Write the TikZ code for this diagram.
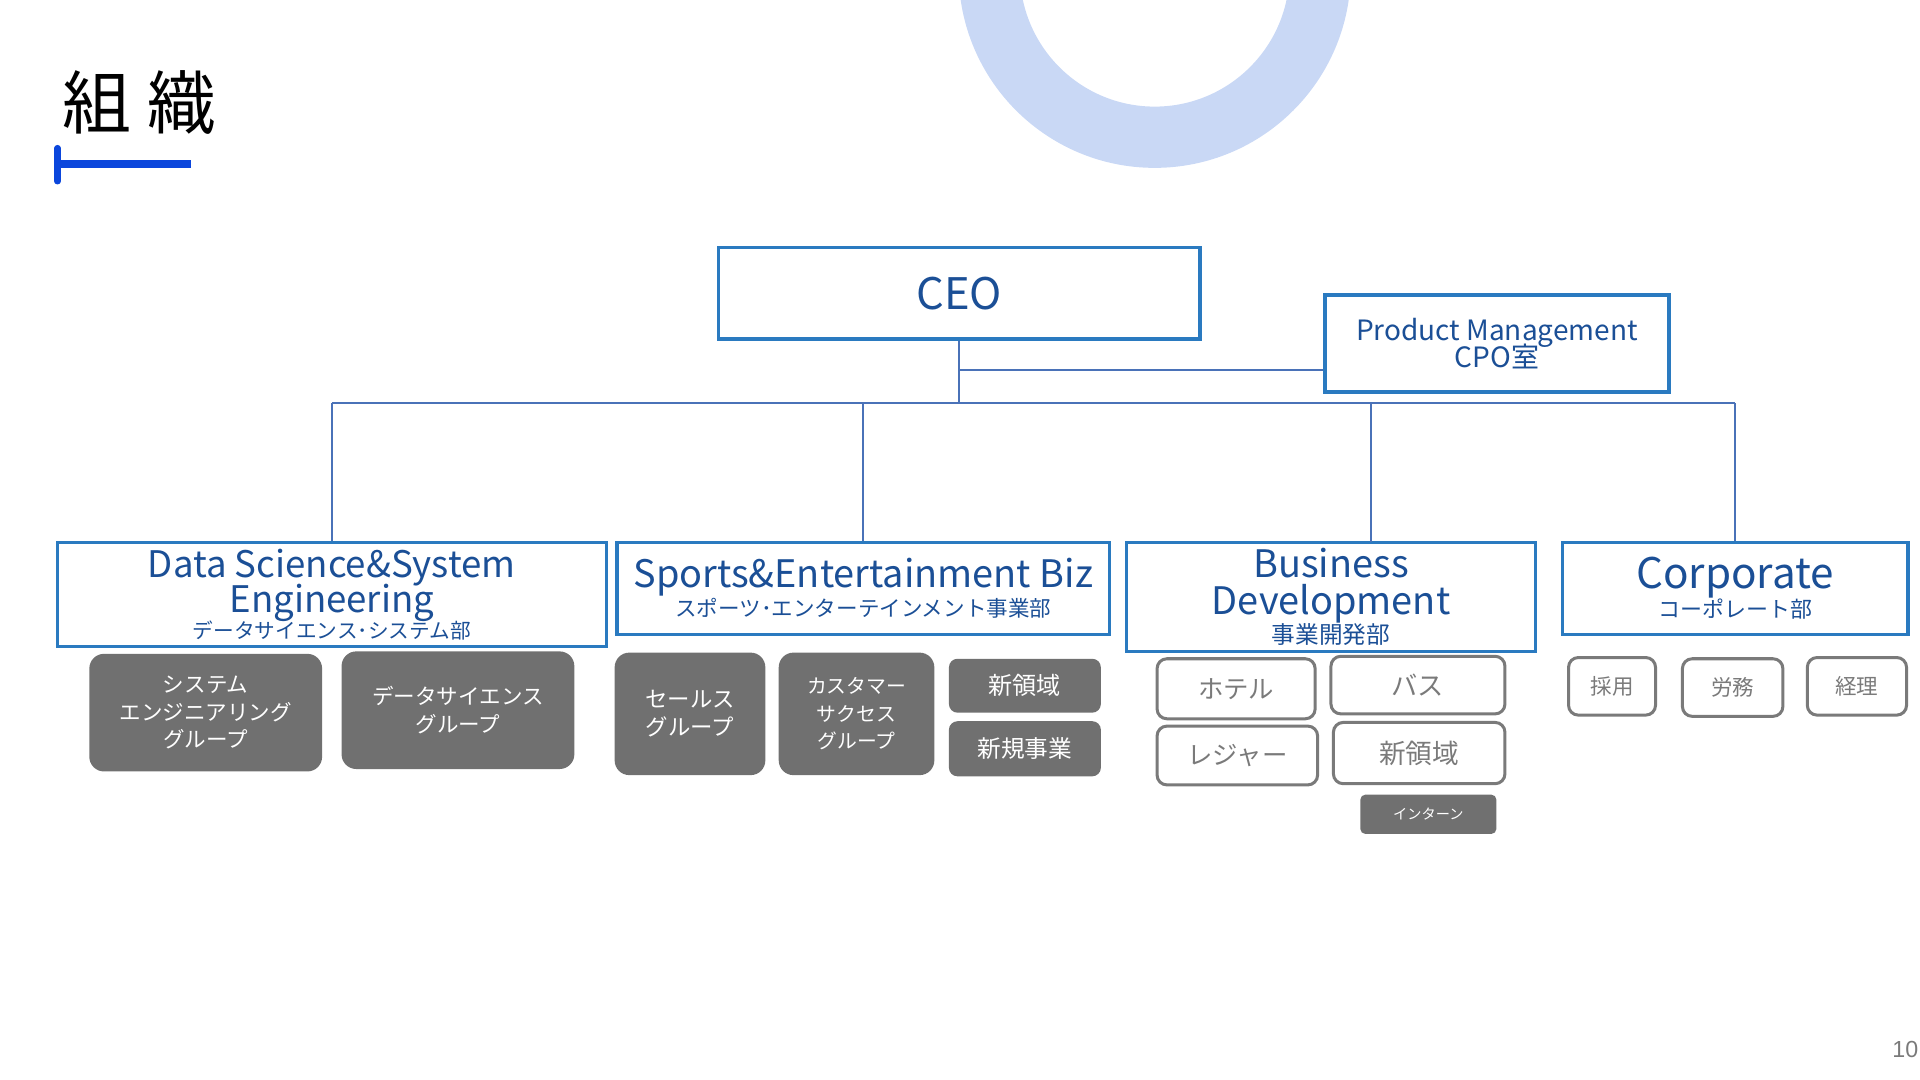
\documentclass[tikz,border=0pt]{standalone}
\usepackage{fontspec}
\setmainfont{Noto Sans CJK JP}
\newfontfamily\pagefont{Liberation Sans}

\definecolor{deptline}{HTML}{2A7AC0}
\definecolor{depttext}{HTML}{1B4F96}
\definecolor{linkline}{HTML}{4A72B8}
\definecolor{grpfill}{HTML}{707070}
\definecolor{unitline}{HTML}{7A7A7A}
\definecolor{ringblue}{HTML}{C9D8F5}
\definecolor{barblue}{HTML}{0B46DC}

\newcommand{\fsz}[2]{\fontsize{#1pt}{#2pt}\selectfont\lineskiplimit=-20pt\relax}

\tikzset{
  dept/.style={draw=deptline,line width=0.8pt,text=depttext,align=center,inner sep=0pt},
  grp/.style={fill=grpfill,text=white,rounded corners=0.12cm,align=center,inner sep=0pt,font={\fsz{5}{6.4}}},
  unit/.style={draw=unitline,line width=0.7pt,text=unitline,rounded corners=0.08cm,inner sep=0pt},
  link/.style={draw=linkline,line width=0.45pt}
}

\begin{document}
\begin{tikzpicture}[x=0.01cm,y=-0.01cm]
\useasboundingbox (0,0) rectangle (1568,882);
% ring at the top
\fill[ringblue,even odd rule] (943,-23) circle (1.6cm) (943,-23) circle (1.1cm);
% title
\node[font={\fsz{16}{16}}] (title) at (114,84) {組 織};
\draw[barblue,line width=1.7pt] (47,134) -- (156,134);
\draw[barblue,line width=1.5pt,line cap=round] (47,121) -- (47,148);

% top
\node[dept,minimum width=3.93cm,minimum height=0.75cm,font={\fsz{10.1}{12}}] (ceo) at (783.5,239.5) {CEO};
\node[dept,minimum width=2.81cm,minimum height=0.79cm,font={\fsz{6.5}{6.4}}] (pm) at (1222.5,280.5) {Product Management\\CPO室};

% departments
\node[dept,minimum width=4.48cm,minimum height=0.85cm,font={\fsz{8.5}{8.3}}] (ds) at (271,485.5)
  {Data Science\&System\\Engineering\\[-2.3pt]{\fsz{4.8}{5}データサイエンス･システム部}};
\node[dept,minimum width=4.02cm,minimum height=0.75cm,font={\fsz{8.8}{8.5}}] (sp) at (705,480.5)
  {Sports\&Entertainment Biz\\[-1.7pt]{\fsz{5}{5}スポーツ･エンターテインメント事業部}};
\node[dept,minimum width=3.34cm,minimum height=0.89cm,font={\fsz{8.8}{8.6}}] (bd) at (1087,487.5)
  {Business\\Development\\[-1.8pt]{\fsz{5.5}{5.5}事業開発部}};
\node[dept,minimum width=2.82cm,minimum height=0.75cm,font={\fsz{9.8}{6.8}}] (co) at (1417,480.5)
  {Corporate\\{\fsz{5.1}{5.1}コーポレート部}};

% connectors
\coordinate (bus) at (ceo.south |- 0,329);
\coordinate (pmjoin) at (ceo.south |- 0,302);
\coordinate (bdin) at (1120,443);
\draw[link] (ceo.south) -- (bus);
\draw[link] (pmjoin) -- (pmjoin -| pm.west);
\draw[link] (bus -| ds.north) -- (bus -| co.north);
\foreach \d in {ds,sp,co}
  \draw[link] (bus -| \d.north) -- (\d.north);
\draw[link] (bus -| bdin) -- (bdin);

% groups
\node[grp,minimum width=1.90cm,minimum height=0.96cm] (sysgrp) at (168,582) {システム\\エンジニアリング\\グループ};
\node[grp,minimum width=1.90cm,minimum height=0.96cm] (dsgrp) at (374,580) {データサイエンス\\グループ};
\node[grp,minimum width=1.23cm,minimum height=1.00cm,font={\fsz{5.2}{6.5}}] (sales) at (563.5,583) {セールス\\グループ};
\node[grp,minimum width=1.27cm,minimum height=1.00cm,font={\fsz{4.6}{6.4}}] (cs) at (699.5,583) {カスタマー\\サクセス\\グループ};
\node[grp,minimum width=1.24cm,minimum height=0.44cm,rounded corners=0.07cm,font={\fsz{5.6}{6}}] (spnew) at (837,560) {新領域};
\node[grp,minimum width=1.24cm,minimum height=0.45cm,rounded corners=0.07cm,font={\fsz{5.5}{6}}] (spbiz) at (837,611.5) {新規事業};

\node[unit,minimum width=1.29cm,minimum height=0.49cm,font={\fsz{5.9}{6}}] (hotel) at (1009.5,562.5) {ホテル};
\node[unit,minimum width=1.42cm,minimum height=0.47cm,font={\fsz{6.1}{6}}] (bus2) at (1158,559.5) {バス};
\node[unit,minimum width=1.31cm,minimum height=0.48cm,font={\fsz{5.9}{6}}] (leisure) at (1010.5,617) {レジャー};
\node[unit,minimum width=1.40cm,minimum height=0.50cm,font={\fsz{6.2}{6}}] (bdnew) at (1159,615) {新領域};
\node[grp,minimum width=1.11cm,minimum height=0.32cm,rounded corners=0.04cm,font={\fsz{3.3}{4}}] (intern) at (1166.5,665) {インターン};

\node[unit,minimum width=0.71cm,minimum height=0.47cm,font={\fsz{5}{6}}] (hire) at (1316.5,560.5) {採用};
\node[unit,minimum width=0.82cm,minimum height=0.47cm,font={\fsz{5}{6}}] (labor) at (1415,561.5) {労務};
\node[unit,minimum width=0.81cm,minimum height=0.47cm,font={\fsz{5}{6}}] (acct) at (1516.5,560.5) {経理};

\node[text=unitline,font={\pagefont\fsz{5.4}{6}}] (pageno) at (1556,857) {10};
\end{tikzpicture}
\end{document}
